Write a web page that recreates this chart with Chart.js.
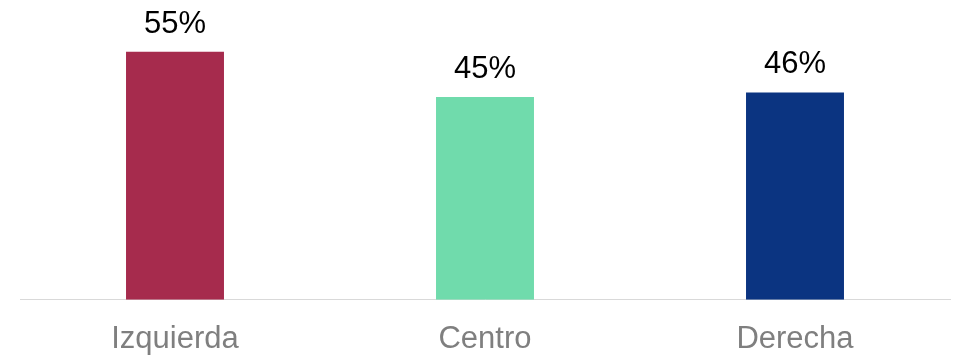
<!DOCTYPE html>
<html>
<head>
<meta charset="utf-8">
<script src="https://cdn.jsdelivr.net/npm/chart.js@4/dist/chart.umd.min.js"></script>
<style>
  html, body { margin: 0; padding: 0; background: #fff; }
  canvas { display: block; }
</style>
</head>
<body>
<canvas id="grafico" width="959" height="358"></canvas>
<script>
var categorias = ["Izquierda", "Centro", "Derecha"];
var valores = [55, 45, 46];
var cores = ["#A62B4D", "#70DBAC", "#0B3481"];

// escreve o valor em cima de cada barra
var rotuloValor = {
    id: "rotuloValor",
    afterDatasetsDraw: function (chart) {
        var ctx = chart.ctx;
        var meta = chart.getDatasetMeta(0);
        ctx.save();
        ctx.font = "31px 'Liberation Sans', Arial, sans-serif";
        ctx.fillStyle = "#000000";
        ctx.textAlign = "center";
        ctx.textBaseline = "alphabetic";
        meta.data.forEach(function (barra, i) {
            ctx.fillText(valores[i] + "%", barra.x, barra.y - 19);
        });
        ctx.restore();
    }
};

var grafico = new Chart(document.getElementById("grafico"), {
    type: "bar",
    data: {
        labels: categorias,
        datasets: [{
            label: "",
            data: valores,
            backgroundColor: cores,
            borderWidth: 0,
            categoryPercentage: 1,
            barPercentage: 0.316
        }]
    },
    options: {
        responsive: false,
        animation: false,
        layout: {
            padding: { left: 20, right: 9, top: 0, bottom: -21 }
        },
        plugins: {
            legend: { display: false },
            tooltip: { enabled: false }
        },
        scales: {
            x: {
                grid: { display: false, drawTicks: false },
                border: { display: true, color: "#D9D9D9", width: 1 },
                ticks: {
                    color: "#7F7F7F",
                    padding: 21,
                    font: { family: "'Liberation Sans', Arial, sans-serif", size: 31 }
                }
            },
            y: {
                display: false,
                min: 0,
                max: 66.5
            }
        }
    },
    plugins: [rotuloValor]
});
</script>
</body>
</html>
